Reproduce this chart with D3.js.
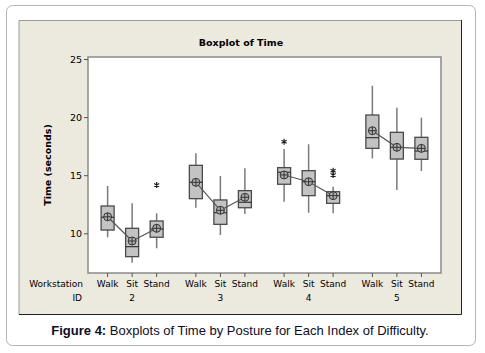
<!DOCTYPE html>
<html>
<head>
<meta charset="utf-8">
<script src="https://cdn.jsdelivr.net/npm/d3@7"></script>
<style>
  body { margin: 0; background: #fff; }
  svg { display: block; }
</style>
</head>
<body>
<svg id="chart" width="485" height="353"></svg>
<script>
const groups = ["2", "3", "4", "5"];
const postures = ["Walk", "Sit", "Stand"];
// one value per box, group by group (Walk, Sit, Stand)
const whiskerLow  = [9.66, 7.47, 8.71,  12.2, 9.85, 11.66,  12.72, 11.77, 11.72,  16.45, 13.73, 15.36];
const q1          = [10.28, 7.99, 9.66,  12.98, 10.77, 12.2,  14.22, 13.24, 12.58,  17.31, 16.39, 16.37];
const medians     = [11.38, 8.85, 10.37,  14.39, 11.77, 12.67,  15.25, 14.44, 13.24,  18.23, 17.4, 17.08];
const q3          = [12.35, 10.43, 11.06,  15.85, 12.87, 13.67,  15.65, 15.39, 13.58,  20.18, 18.69, 18.26];
const whiskerHigh = [14.07, 12.58, 11.72,  16.88, 14.93, 15.59,  17.25, 17.66, 14.01,  22.7, 20.81, 19.95];
const means       = [11.42, 9.34, 10.43,  14.39, 11.98, 13.1,  15.02, 14.44, 13.24,  18.83, 17.4, 17.31];
const outliers    = [[], [], [14.16],  [], [], [],  [17.88], [], [15.39, 15.02],  [], [], []];
const yTicks = [10, 15, 20, 25];

const svg = d3.select("#chart");
const plotLeft = 88, plotRight = 441, plotTop = 57, plotBottom = 273;
const tahoma = "'DejaVu Sans', Verdana, sans-serif";

const boxes = [];
groups.forEach((g, gi) => postures.forEach((p, pi) => {
  const i = gi * 3 + pi;
  boxes.push({ group: g, posture: p, lo: whiskerLow[i], q1: q1[i], med: medians[i],
    q3: q3[i], hi: whiskerHigh[i], mean: means[i], out: outliers[i] });
}));

const x0 = d3.scaleBand().domain(groups).range([plotLeft, plotRight]).padding(0);
const x1 = d3.scalePoint().domain(postures).range([0, x0.bandwidth()]).padding(0.8);
const y = d3.scaleLinear().domain([10, 25]).range([233.3, 59]);
const xPos = d => x0(d.group) + x1(d.posture);

// outer frame and panel
svg.append("rect").attr("x", 6.5).attr("y", 5.5).attr("width", 469).attr("height", 340)
  .attr("rx", 6).attr("fill", "#fff").attr("stroke", "#b4b4b4");
svg.append("rect").attr("x", 19).attr("y", 20).attr("width", 442).attr("height", 294)
  .attr("fill", "#ece9df");
svg.append("path").attr("d", "M19,314.5V20.5H461").attr("fill", "none").attr("stroke", "#9a9a9a");
svg.append("path").attr("d", "M461.5,20V314.5H19").attr("fill", "none").attr("stroke", "#222");

svg.append("rect").attr("x", plotLeft).attr("y", plotTop)
  .attr("width", plotRight - plotLeft).attr("height", plotBottom - plotTop)
  .attr("fill", "#fff").attr("stroke", "#8a8a8a").attr("stroke-width", 1.5);

// title
svg.append("text").attr("x", 241).attr("y", 46).attr("text-anchor", "middle")
  .style("font-family", tahoma).style("font-size", "9.5px").style("font-weight", "bold")
  .text("Boxplot of Time");

// y axis
const yAxis = svg.append("g").attr("transform", `translate(${plotLeft},0)`)
  .call(d3.axisLeft(y).tickValues(yTicks).tickSize(4).tickPadding(2));
yAxis.select(".domain").remove();
yAxis.selectAll("line").attr("stroke", "#555");
yAxis.selectAll("text").style("font-family", tahoma).style("font-size", "9.5px").attr("fill", "#000");

svg.append("text").attr("transform", "translate(51,165) rotate(-90)").attr("text-anchor", "middle")
  .style("font-family", tahoma).style("font-size", "9.5px").style("font-weight", "bold")
  .text("Time (seconds)");

// x axis ticks and labels
const xg = svg.append("g");
xg.selectAll("line").data(boxes).enter().append("line")
  .attr("x1", xPos).attr("x2", xPos).attr("y1", plotBottom).attr("y2", plotBottom + 4)
  .attr("stroke", "#555");
xg.selectAll("text.post").data(boxes).enter().append("text").attr("class", "post")
  .attr("x", xPos).attr("y", 286.5).attr("text-anchor", "middle")
  .style("font-family", tahoma).style("font-size", "9px").text(d => d.posture);
xg.selectAll("text.grp").data(groups).enter().append("text").attr("class", "grp")
  .attr("x", g => x0(g) + x0.bandwidth() / 2).attr("y", 301).attr("text-anchor", "middle")
  .style("font-family", tahoma).style("font-size", "9px").text(g => g);
svg.append("text").attr("x", 83).attr("y", 286.5).attr("text-anchor", "end")
  .style("font-family", tahoma).style("font-size", "9px").text("Workstation");
svg.append("text").attr("x", 82).attr("y", 301).attr("text-anchor", "end")
  .style("font-family", tahoma).style("font-size", "9px").text("ID");

// boxes
const bw = 13;
const bx = svg.append("g").selectAll("g").data(boxes).enter().append("g");
bx.append("line").attr("x1", xPos).attr("x2", xPos)
  .attr("y1", d => y(d.lo)).attr("y2", d => y(d.hi))
  .attr("stroke", "#7a7a7a").attr("stroke-width", 1.5);
bx.append("rect").attr("x", d => xPos(d) - bw / 2).attr("width", bw)
  .attr("y", d => y(d.q3)).attr("height", d => y(d.q1) - y(d.q3))
  .attr("fill", "#c3c3c3").attr("stroke", "#4a4a4a").attr("stroke-width", 1.3);
bx.append("line").attr("x1", d => xPos(d) - bw / 2).attr("x2", d => xPos(d) + bw / 2)
  .attr("y1", d => y(d.med)).attr("y2", d => y(d.med))
  .attr("stroke", "#333").attr("stroke-width", 1.2);

// outliers
const star = d3.symbol().type(d3.symbolAsterisk).size(24);
bx.selectAll("path.out").data(d => d.out.map(v => ({ x: xPos(d), v }))).enter()
  .append("path").attr("class", "out").attr("d", star)
  .attr("transform", o => `translate(${o.x},${y(o.v)})`)
  .attr("fill", "none").attr("stroke", "#222").attr("stroke-width", 1.2);

// mean connect lines
const meanLine = d3.line().x(xPos).y(d => y(d.mean));
groups.forEach(g => {
  svg.append("path").datum(boxes.filter(b => b.group === g)).attr("d", meanLine)
    .attr("fill", "none").attr("stroke", "#555").attr("stroke-width", 1.2);
});

// mean symbols
const ms = svg.append("g").selectAll("g").data(boxes).enter().append("g")
  .attr("transform", d => `translate(${xPos(d)},${y(d.mean)})`);
ms.append("circle").attr("r", 4).attr("fill", "#b0b0b0").attr("stroke", "#333").attr("stroke-width", 1);
ms.append("path").attr("d", "M-4,0H4M0,-4V4").attr("stroke", "#333").attr("stroke-width", 1);

// caption
const cap = svg.append("text").attr("x", 240).attr("y", 334.5).attr("text-anchor", "middle")
  .style("font-family", "'Liberation Sans', Arial, sans-serif").style("font-size", "13px")
  .attr("fill", "#0d0d26");
cap.append("tspan").style("font-weight", "bold").text("Figure 4:");
cap.append("tspan").text(" Boxplots of Time by Posture for Each Index of Difficulty.");
</script>
</body>
</html>
